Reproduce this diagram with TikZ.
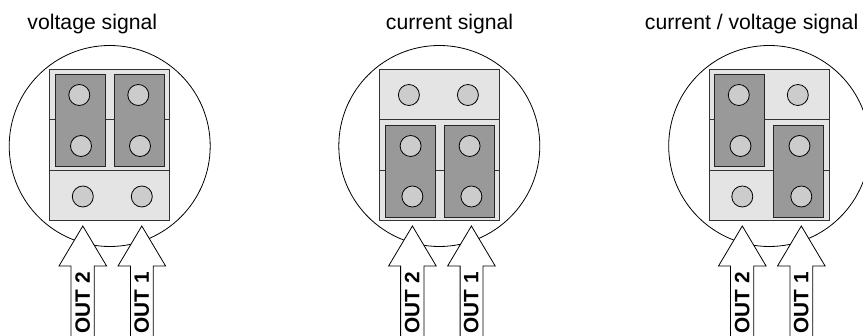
\documentclass[tikz,border=0pt]{standalone}
\usepackage{fontspec}
\setmainfont{Liberation Sans}
\definecolor{plate}{HTML}{E4E4E4}
\definecolor{jump}{HTML}{999999}
\definecolor{pin}{HTML}{CCCCCC}
\tikzset{
  px/.style={x=1pt,y=-1pt},
  dial/.style={circle,draw=black,line width=0.8pt,fill=white,minimum size=201pt,inner sep=0pt},
  plateblock/.style={draw=black!80,line width=1pt,fill=plate,minimum width=120pt,minimum height=50.6pt,inner sep=0pt},
  jumper/.style={draw=black!85,line width=1pt,fill=jump,minimum width=50.3pt,minimum height=91.8pt,inner sep=0pt},
  pinhole/.style={circle,draw=black,line width=0.8pt,fill=pin,minimum size=21pt,inner sep=0pt},
  title/.style={font=\fontsize{21.2}{24}\selectfont,inner sep=0pt,anchor=base},
  outlabel/.style={font=\bfseries\fontsize{20.8}{20.8}\selectfont,rotate=90,inner sep=0pt},
  outarrow/.style={draw=black,line width=0.8pt,fill=white,line join=miter}
}
\newcommand{\panelframe}[2]{%
 \begin{scope}[shift={(#1,0)}]
  \node[dial] (c#2) at (109.7,146) {};
  \node[plateblock] (pa#2) at (109.7,94.9) {};
  \node[plateblock] (pb#2) at (109.7,145.3) {};
  \node[plateblock] (pc#2) at (109.7,195.6) {};
 \end{scope}}
\newcommand{\pins}[2]{%
 \begin{scope}[shift={(#1,0)}]
  \node[pinhole] (h1#2) at (79.3,95) {};
  \node[pinhole] (h2#2) at (138.3,95) {};
  \node[pinhole] (h3#2) at (81,146) {};
  \node[pinhole] (h4#2) at (140,146) {};
  \node[pinhole] (h5#2) at (82.8,196.5) {};
  \node[pinhole] (h6#2) at (141.8,196.5) {};
 \end{scope}}
\newcommand{\outs}[2]{%
 \begin{scope}[shift={(#1,0)}]
  \path[outarrow] (71,336.5) -- (71,266) -- (59,266) -- (82.8,226) -- (106.6,266) -- (94.3,266) -- (94.3,336.5);
  \node[outlabel,anchor=west] (o2#2) at (82.6,333.5) {OUT 2};
  \path[outarrow] (130.5,336.5) -- (130.5,266) -- (118,266) -- (141.8,226) -- (165.6,266) -- (153.3,266) -- (153.3,336.5);
  \node[outlabel,anchor=west] (o1#2) at (141.6,333.5) {OUT 1};
 \end{scope}}
\begin{document}
\begin{tikzpicture}[px]
 \useasboundingbox (0,0) rectangle (863,336);
 \clip (0,0) rectangle (863,336);
 \node[title] (t1) at (92.3,29.3) {voltage signal};
 \node[title] (t2) at (449.6,29.3) {current signal};
 \node[title] (t3) at (751.6,29.3) {current / voltage signal};
 % panel 1
 \panelframe{0}{a}
 \node[jumper] (j1a) at (80.2,120.5) {};
 \node[jumper] (j2a) at (139.5,120.5) {};
 \pins{0}{a}
 \outs{0}{a}
 % panel 2
 \panelframe{329.6}{b}
 \node[jumper] (j1b) at (410.3,171.5) {};
 \node[jumper] (j2b) at (469.3,171.5) {};
 \pins{329.6}{b}
 \outs{329.6}{b}
 % panel 3
 \panelframe{659.5}{c}
 \node[jumper] (j1c) at (739.8,120.7) {};
 \node[jumper] (j2c) at (798.7,171.5) {};
 \pins{659.5}{c}
 \outs{659.5}{c}
\end{tikzpicture}
\end{document}
